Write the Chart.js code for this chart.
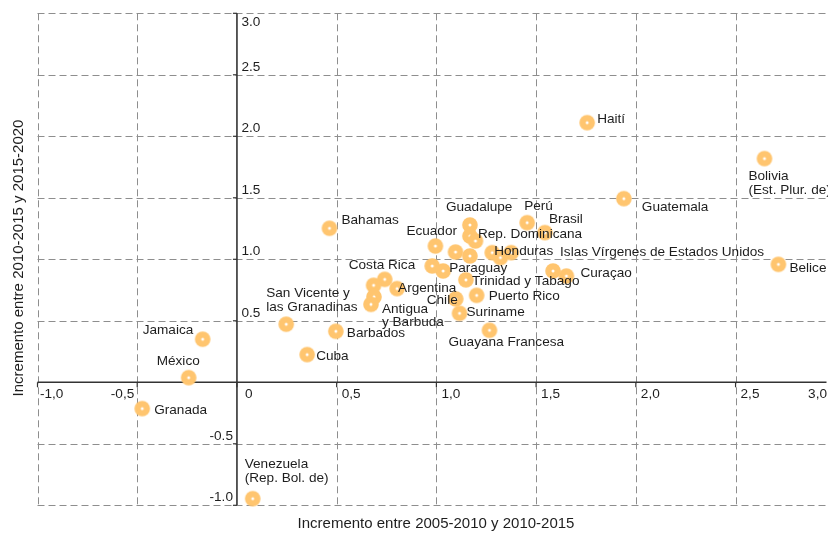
<!DOCTYPE html>
<html><head><meta charset="utf-8">
<script src="https://cdn.jsdelivr.net/npm/chart.js@4/dist/chart.umd.min.js"></script>
<style>html,body{margin:0;padding:0;background:#fff;overflow:hidden}#wrap{width:828px;height:537px;position:relative}</style>
</head><body><div id="wrap"><canvas id="c" width="828" height="537"></canvas></div>
<script>
// ---- data ----
const countries = [
  'Bahamas','Haití','Bolivia\n(Est. Plur. de)','Guatemala','Belice',
  'Islas Vírgenes de Estados Unidos','Curaçao','Trinidad y Tabago','Puerto Rico','Chile',
  'Suriname','Guayana Francesa','Costa Rica','','Argentina','Antigua\ny Barbuda','',
  '','Paraguay','Ecuador','Guadalupe','Perú','Brasil','Rep. Dominicana','',
  '','','Honduras','','',
  'San Vicente y\nlas Granadinas','Barbados','Cuba','Jamaica','México','Granada',
  'Venezuela\n(Rep. Bol. de)'
];
const xValues = [
  0.464,1.756,2.645,1.940,2.715,
  1.585,1.652,1.148,1.202,1.097,
  1.116,1.266,0.741,0.685,0.803,0.687,0.672,
  0.979,1.034,0.995,1.168,1.455,1.544,1.168,1.196,
  1.096,1.168,1.280,1.321,1.375,
  0.247,0.496,0.352,-0.172,-0.242,-0.475,
  0.079
];
const yValues = [
  1.252,2.111,1.819,1.493,0.959,
  0.905,0.864,0.833,0.707,0.678,
  0.561,0.423,0.837,0.789,0.762,0.695,0.634,
  0.946,0.905,1.108,1.279,1.298,1.217,1.189,1.149,
  1.059,1.027,1.054,1.014,1.054,
  0.472,0.415,0.225,0.350,0.038,-0.214,
  -0.946
];
const xTicks = [-1,-0.5,0,0.5,1,1.5,2,2.5,3];
const xTickLabels = ['-1,0','-0,5','0','0,5','1,0','1,5','2,0','2,5','3,0'];
const yTicks = [-1,-0.5,0.5,1,1.5,2,2.5,3];
const yTickLabels = ['-1.0','-0.5','0.5','1.0','1.5','2.0','2.5','3.0'];
const xTitle = 'Incremento entre 2005-2010 y 2010-2015';
const yTitle = 'Incremento entre 2010-2015 y 2015-2020';

// ---- label placement (layout only, offsets in px from the point) ----
const labelOffset = {
  'Bahamas':[12,-8],'Haití':[10,-3],'Bolivia\n(Est. Plur. de)':[-16,18],'Guatemala':[18,9],
  'Belice':[11,4],'Islas Vírgenes de Estados Unidos':[7,-19],'Curaçao':[14,-3],
  'Trinidad y Tabago':[6,1],'Puerto Rico':[12,1],'Chile':[-29,1],'Suriname':[7,-1],
  'Guayana Francesa':[-41,12],'Costa Rica':[-36,-14],'Argentina':[1,0],
  'Antigua\ny Barbuda':[8,12],'Paraguay':[6,-3],'Ecuador':[-29,-15],'Guadalupe':[-24,-18],
  'Perú':[-3,-16],'Brasil':[4,-13],'Rep. Dominicana':[8,-2],'Honduras':[2,-1],
  'San Vicente y\nlas Granadinas':[-20,-31],'Barbados':[11,2],'Cuba':[9,2],
  'Jamaica':[-60,-9],'México':[-32,-16],'Granada':[12,2],'Venezuela\n(Rep. Bol. de)':[-8,-34]
};

const FONT = '"Liberation Sans", Arial, sans-serif';
const TXT = '#1e1e1e';

// point glyph: orange disc with white centre
const dot = document.createElement('canvas');
dot.width = 20; dot.height = 20;
(function(){
  const g = dot.getContext('2d');
  g.fillStyle = '#FFC56F';
  g.beginPath(); g.arc(10,10,7.8,0,Math.PI*2); g.fill();
  g.fillStyle = '#ffffff';
  g.beginPath(); g.arc(10,10,1.5,0,Math.PI*2); g.fill();
})();

const decor = {
  id:'decor',
  beforeDatasetsDraw(chart){
    const {ctx, chartArea:a, scales:{x,y}} = chart;
    const line=(x1,y1,x2,y2)=>{ctx.beginPath();ctx.moveTo(x1,y1);ctx.lineTo(x2,y2);ctx.stroke();};
    ctx.save();
    ctx.strokeStyle='#8e8e8e'; ctx.lineWidth=1; ctx.setLineDash([7,4]);
    xTicks.forEach(v=>{ if(v===0) return; const px=Math.round(x.getPixelForValue(v))+0.5; if(px>a.right+1) return; line(px,a.top,px,a.bottom);});
    yTicks.forEach(v=>{ const py=Math.round(y.getPixelForValue(v))+0.5; line(a.left,py,a.right,py);});
    ctx.setLineDash([]);
    const x0=x.getPixelForValue(0), y0=y.getPixelForValue(0);
    ctx.strokeStyle='#333'; ctx.lineWidth=1.6;
    line(x0,a.top,x0,a.bottom); line(a.left,y0,a.right,y0);
    ctx.lineWidth=1.2;
    yTicks.forEach(v=>{const py=y.getPixelForValue(v); line(x0-4,py,x0,py);});
    xTicks.forEach(v=>{const px=x.getPixelForValue(v); if(px>a.right+1) return; line(px,y0,px,y0+5);});
    // tick labels
    ctx.fillStyle=TXT; ctx.font='13.6px '+FONT; ctx.textBaseline='middle';
    xTicks.forEach((v,i)=>{
      const px=x.getPixelForValue(v); const t=xTickLabels[i]; const w=ctx.measureText(t).width;
      let left;
      if(v<0){ left=px-3-w; if(left<a.left) left=a.left+2.5; }
      else if(v===0){ left=px+8; }
      else { left=px+5; }
      if(left+w>827) left=827-w;
      ctx.textAlign='left'; ctx.fillText(t,left,y0+11.5);
    });
    yTicks.forEach((v,i)=>{
      const py=y.getPixelForValue(v); const t=yTickLabels[i];
      let cy=py-8; if(cy<a.top+9) cy=a.top+9;
      if(v<0){ ctx.textAlign='right'; ctx.fillText(t,x0-4,cy); }
      else { ctx.textAlign='left'; ctx.fillText(t,x0+4.5,cy); }
    });
    // axis titles
    ctx.font='15px '+FONT; ctx.textAlign='center';
    ctx.fillText(xTitle,436,524);
    ctx.save(); ctx.translate(19,258); ctx.rotate(-Math.PI/2); ctx.fillText(yTitle,0,0); ctx.restore();
    ctx.restore();
  },
  afterDatasetsDraw(chart){
    const {ctx, scales:{x,y}} = chart;
    ctx.save();
    ctx.fillStyle=TXT; ctx.font='13.6px '+FONT; ctx.textAlign='left'; ctx.textBaseline='middle';
    countries.forEach((n,i)=>{
      if(!n) return;
      const off=labelOffset[n]||[10,0];
      const px=x.getPixelForValue(xValues[i]), py=y.getPixelForValue(yValues[i]);
      n.split('\n').forEach((ln,k)=>ctx.fillText(ln,px+off[0],py+off[1]+k*13.6));
    });
    ctx.restore();
  }
};

new Chart(document.getElementById('c'),{
  type:'scatter',
  data:{datasets:[{
    data:xValues.map((v,i)=>({x:v,y:yValues[i]})),
    pointStyle:dot, pointRadius:8, pointHoverRadius:8, clip:false
  }]},
  options:{
    responsive:false, animation:false, devicePixelRatio:1,
    layout:{autoPadding:false,padding:{left:37.5,right:1.5,top:13.3,bottom:31.7}},
    plugins:{legend:{display:false},tooltip:{enabled:false}},
    events:[],
    scales:{
      x:{type:'linear',min:-1,max:2.956,display:false},
      y:{type:'linear',min:-1,max:3,display:false}
    }
  },
  plugins:[decor]
});
</script></body></html>
